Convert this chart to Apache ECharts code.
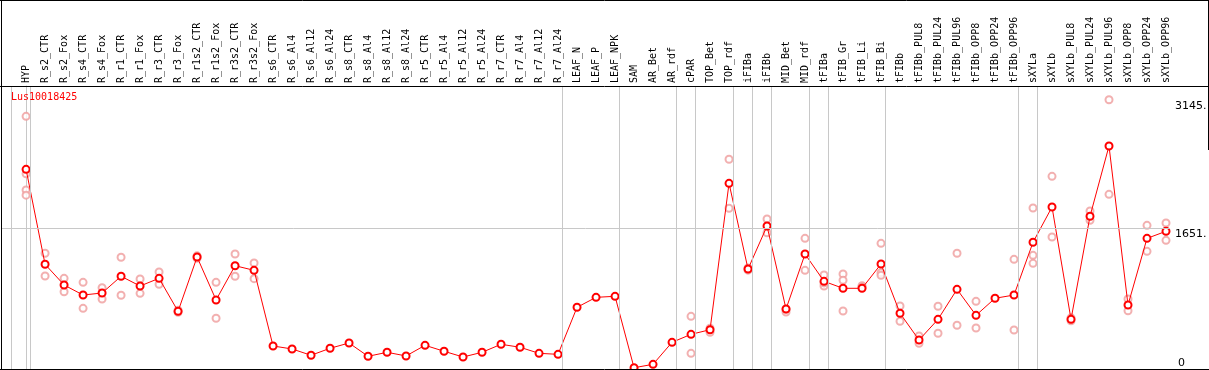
<!DOCTYPE html>
<html>
<head>
<meta charset="utf-8">
<script src="https://cdn.jsdelivr.net/npm/echarts@6/dist/echarts.min.js"></script>
<style>
  html, body { margin: 0; padding: 0; background: #fff; }
  #chart { width: 1209px; height: 370px; }
</style>
</head>
<body>
<div id="chart"></div>
<script>
var geneName = 'Lus10018425';

var categories = ['HYP',
    'R_s2_CTR', 'R_s2_Fox', 'R_s4_CTR', 'R_s4_Fox', 'R_r1_CTR', 'R_r1_Fox', 'R_r3_CTR', 'R_r3_Fox',
    'R_r1s2_CTR', 'R_r1s2_Fox', 'R_r3s2_CTR', 'R_r3s2_Fox',
    'R_s6_CTR', 'R_s6_Al4', 'R_s6_Al12', 'R_s6_Al24', 'R_s8_CTR', 'R_s8_Al4', 'R_s8_Al12', 'R_s8_Al24',
    'R_r5_CTR', 'R_r5_Al4', 'R_r5_Al12', 'R_r5_Al24', 'R_r7_CTR', 'R_r7_Al4', 'R_r7_Al12', 'R_r7_Al24',
    'LEAF_N', 'LEAF_P', 'LEAF_NPK',
    'SAM', 'AR_Bet', 'AR_rdf',
    'cPAR',
    'TOP_Bet', 'TOP_rdf',
    'iFIBa',
    'iFIBb',
    'MID_Bet', 'MID_rdf',
    'tFIBa',
    'tFIB_Gr', 'tFIB_Li', 'tFIB_Bi',
    'tFIBb', 'tFIBb_PUL8', 'tFIBb_PUL24', 'tFIBb_PUL96', 'tFIBb_OPP8', 'tFIBb_OPP24', 'tFIBb_OPP96',
    'sXYLa',
    'sXYLb', 'sXYLb_PUL8', 'sXYLb_PUL24', 'sXYLb_PUL96', 'sXYLb_OPP8', 'sXYLb_OPP24', 'sXYLb_OPP96'];

// how many samples in each group (grey separator after each group)
var groupSizes = [1, 28, 3, 3, 1, 2, 1, 1, 2, 1, 3, 7, 1, 7];

var means = [2343,
    1229, 986, 868, 892, 1088, 974, 1064, 677, 1314, 810, 1212, 1158,
    270, 235, 161, 243, 305, 149, 196, 153,
    278, 208, 141, 196, 290, 255, 184, 172,
    724, 841, 853,
    15, 55, 313,
    407,
    461, 2179,
    1173,
    1678,
    704, 1349,
    1029,
    947, 947, 1232,
    654, 340, 583, 935, 630, 830, 868,
    1487,
    1901, 583, 1792, 2617, 751, 1533, 1616];

var replicates = [[2965, 2290, 2100, 2040],
    [1358, 1091], [1064, 907], [1017, 712], [954, 821], [1311, 865], [1056, 888], [1138, 994], [665, 690],
    [1300, 1328], [1017, 595], [1349, 1088], [1244, 1060],
    [], [], [], [], [], [], [], [],
    [], [], [], [], [], [], [], [],
    [], [], [],
    [], [], [],
    [618, 184],
    [478, 431], [2461, 1886],
    [1160, 1185],
    [1760, 1599],
    [669, 700], [1533, 1158],
    [1103, 974, 1010],
    [1115, 1041, 681], [978, 960], [1475, 1130, 1099],
    [739, 560], [387, 301], [736, 419], [1358, 513], [794, 481], [], [1287, 458],
    [1889, 1334, 1240],
    [2261, 1549], [600, 565], [1854, 1745], [3160, 2050], [821, 684], [1686, 1381], [1713, 1510]];

var yTicks = [1651, 3145];
var yZeroTick = [0];

var myChart = echarts.init(document.getElementById('chart'));

var monoFont = 'DejaVu Sans Mono';
var gridColor = '#c8c8c8';
var sepOffset = 0.23;

var lineData = means.map(function (v, i) { return [i, v]; });
var repData = [];
replicates.forEach(function (list, i) {
    list.forEach(function (v) { repData.push([i, v]); });
});

// separators: one before the first group, then one after each group
var sepLines = [{ xAxis: -1 + sepOffset }];
var pos = -1;
groupSizes.forEach(function (n) {
    pos += n;
    sepLines.push({ xAxis: pos + sepOffset });
});
sepLines.push({ yAxis: yTicks[0] });

var option = {
    animation: false,
    backgroundColor: '#fff',
    grid: {
        left: 1, right: 39, top: 86, bottom: 1,
        containLabel: false,
        outerBoundsMode: 'none'
    },
    legend: {
        data: [geneName],
        left: 6, top: 90,
        z: 200,
        icon: 'none',
        itemWidth: 0, itemGap: 0,
        padding: 0,
        textStyle: { color: '#ff0000', fontFamily: monoFont, fontSize: 10 }
    },
    xAxis: {
        type: 'value',
        position: 'top',
        min: -1.32,
        max: 60.21,
        axisLine: { show: false },
        axisTick: { show: false },
        splitLine: { show: false },
        axisLabel: {
            customValues: categories.map(function (c, i) { return i; }),
            formatter: function (v) { return categories[v]; },
            rotate: 90,
            margin: 3,
            color: '#000',
            fontFamily: monoFont,
            fontSize: 10
        }
    },
    yAxis: [{
        type: 'value',
        position: 'right',
        min: 0, max: 3321,
        axisLine: { show: true, lineStyle: { color: gridColor } },
        axisTick: { show: false },
        splitLine: { show: false },
        axisLabel: {
            customValues: yTicks,
            formatter: function (v) { return v + '.'; },
            verticalAlign: 'top',
            margin: 5,
            color: '#000',
            fontFamily: 'DejaVu Sans',
            fontSize: 11
        }
    }, {
        type: 'value',
        position: 'right',
        min: 0, max: 3321,
        axisLine: { show: false },
        axisTick: { show: false },
        splitLine: { show: false },
        axisLabel: {
            customValues: yZeroTick,
            formatter: function (v) { return String(v); },
            verticalAlign: 'bottom',
            margin: 8,
            color: '#000',
            fontFamily: 'DejaVu Sans',
            fontSize: 11
        }
    }],
    graphic: [
        { type: 'line', shape: { x1: 0, y1: 0.5, x2: 1209, y2: 0.5 }, style: { stroke: '#000', lineWidth: 1 }, z: 100 },
        { type: 'line', shape: { x1: 0, y1: 86.5, x2: 1209, y2: 86.5 }, style: { stroke: '#000', lineWidth: 1 }, z: 100 },
        { type: 'line', shape: { x1: 0, y1: 369.5, x2: 1209, y2: 369.5 }, style: { stroke: '#000', lineWidth: 1 }, z: 100 },
        { type: 'line', shape: { x1: 1.5, y1: 0, x2: 1.5, y2: 370 }, style: { stroke: '#000', lineWidth: 1 }, z: 100 },
        { type: 'line', shape: { x1: 1208.5, y1: 0, x2: 1208.5, y2: 150 }, style: { stroke: '#000', lineWidth: 1 }, z: 100 }
    ],
    series: [{
        name: 'replicates',
        type: 'scatter',
        data: repData,
        symbol: 'emptyCircle',
        symbolSize: 7,
        itemStyle: { color: '#ef9c9c', borderColor: '#ef9c9c', borderWidth: 1.5 },
        z: 2,
        silent: true
    }, {
        name: geneName,
        type: 'line',
        data: lineData,
        symbol: 'emptyCircle',
        symbolSize: 7,
        showAllSymbol: true,
        itemStyle: { color: '#ff0000', borderColor: '#ff0000', borderWidth: 2 },
        lineStyle: { color: '#ff0000', width: 1 },
        z: 3,
        markLine: {
            silent: true,
            symbol: 'none',
            label: { show: false },
            lineStyle: { color: gridColor, type: 'solid', width: 1 },
            data: sepLines
        }
    }]
};

if (option && typeof option === 'object') {
    myChart.setOption(option);
}
</script>
</body>
</html>
